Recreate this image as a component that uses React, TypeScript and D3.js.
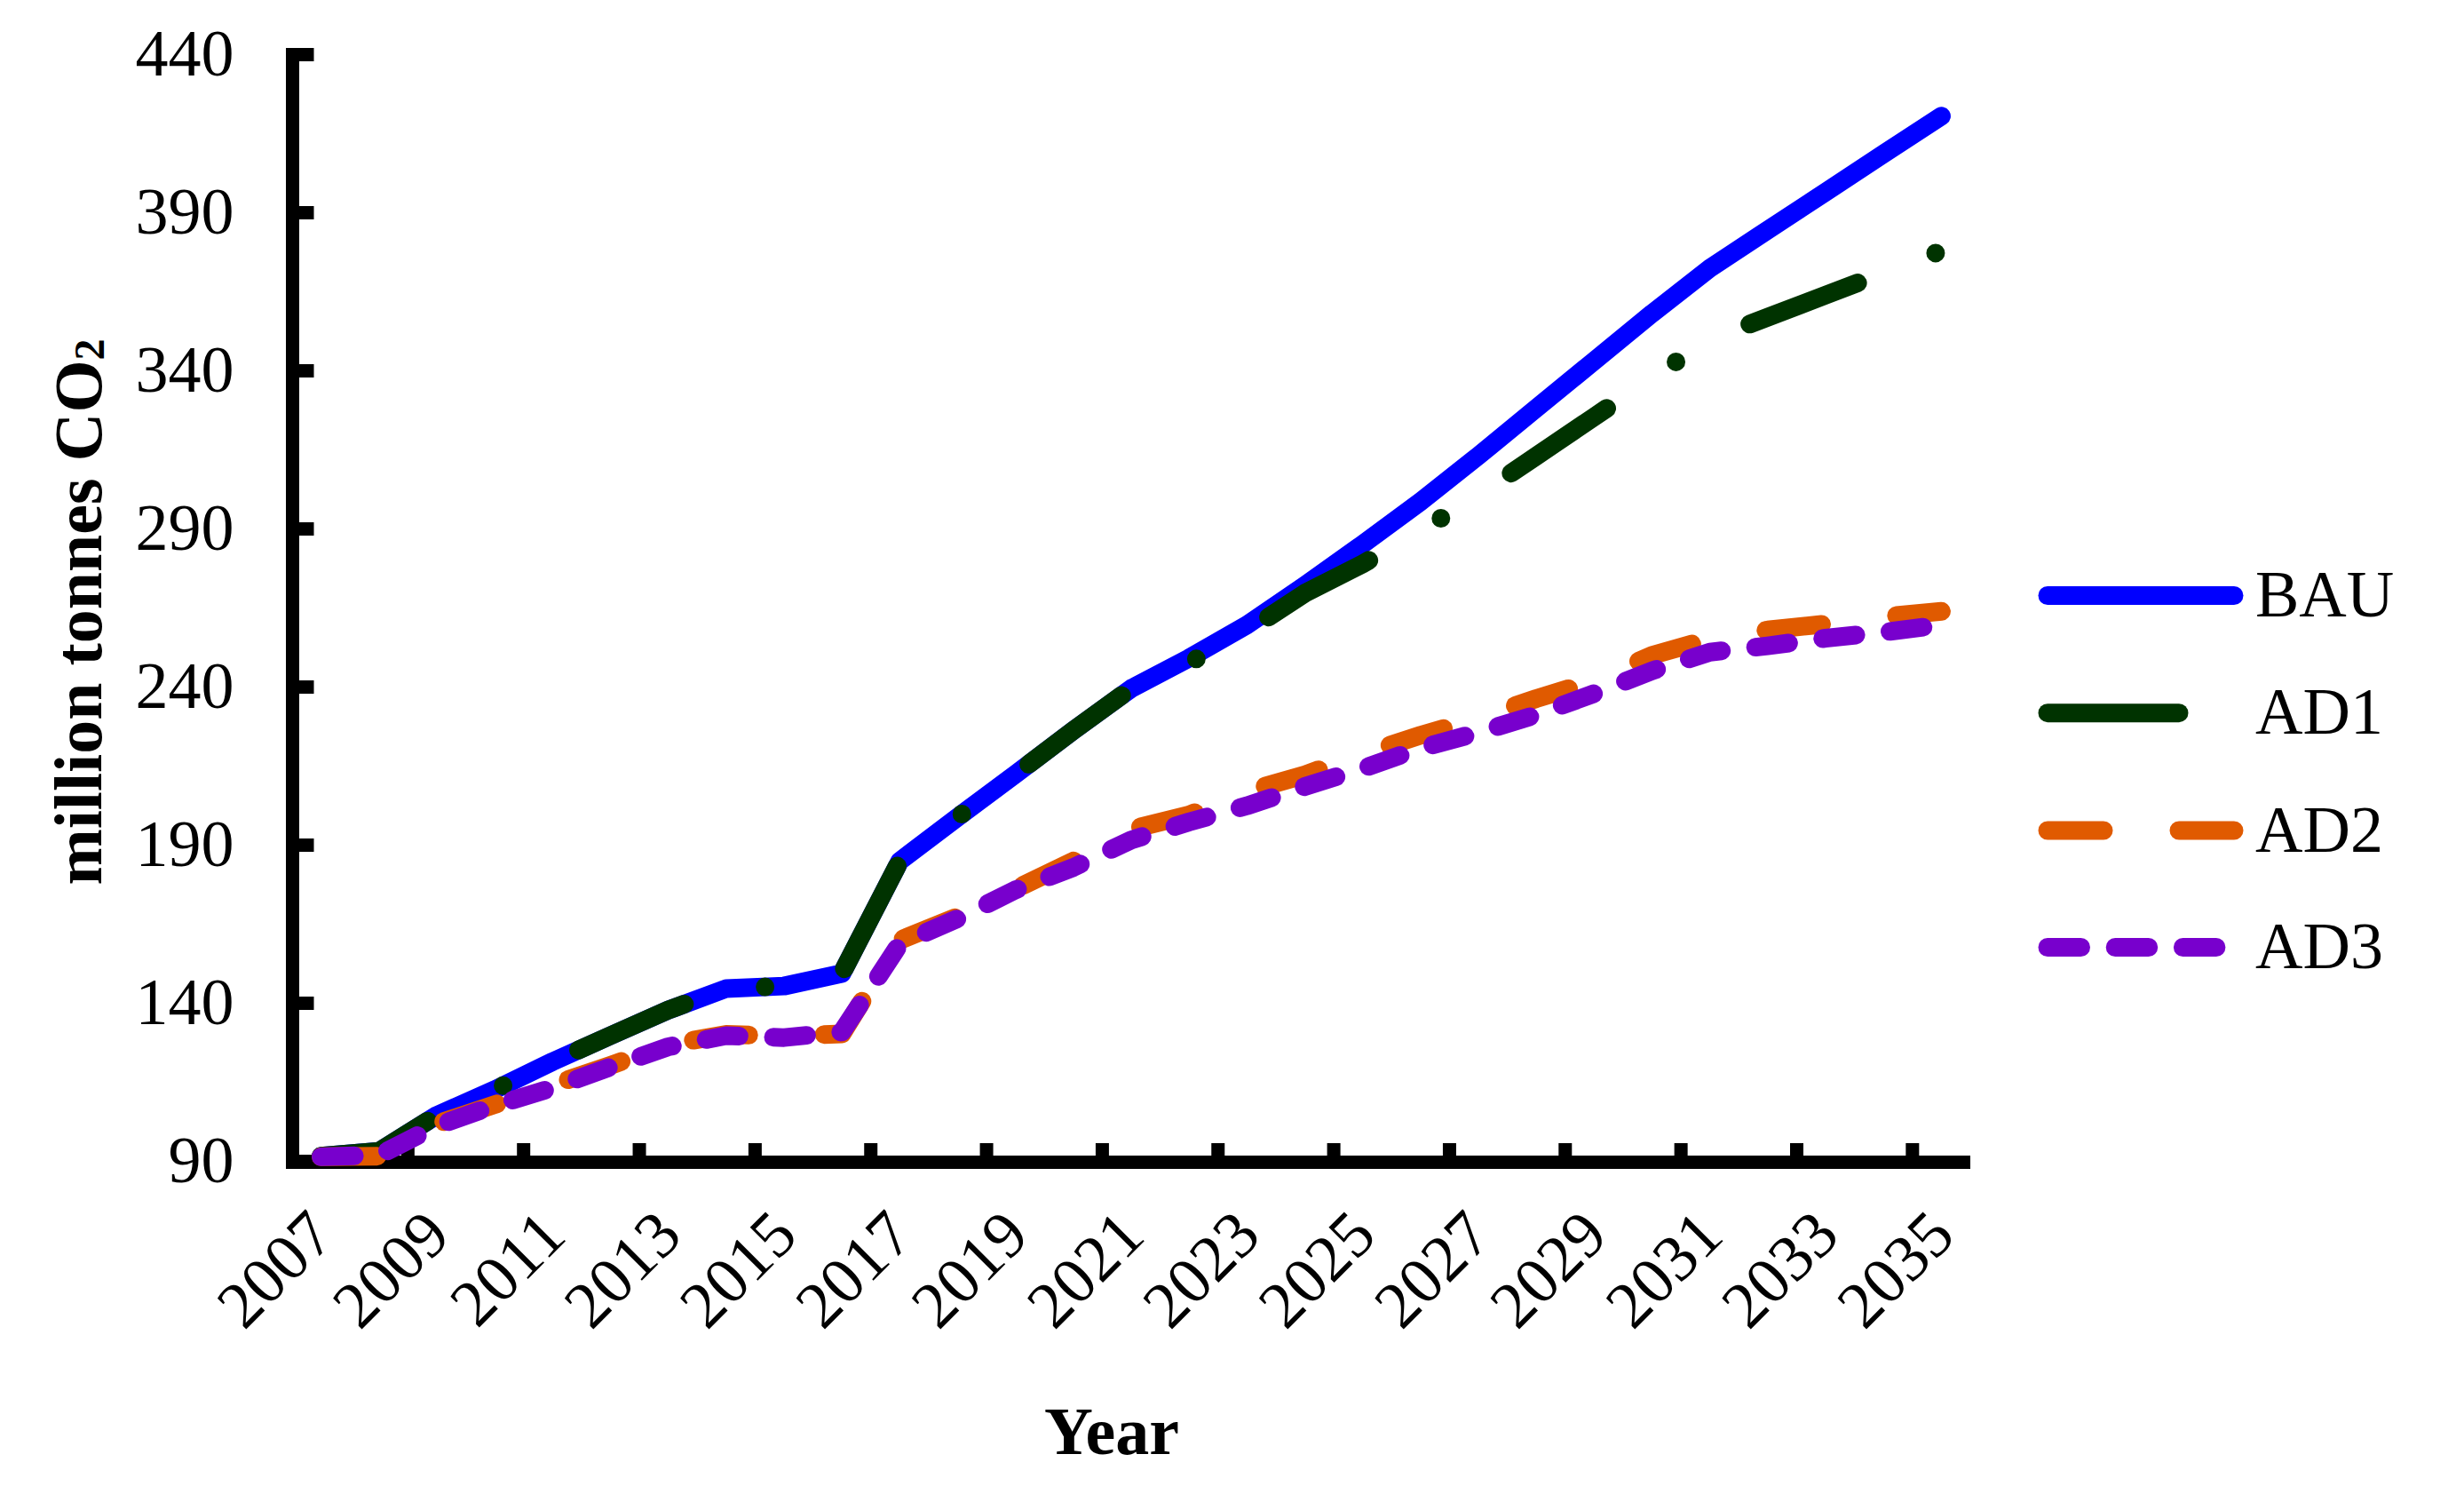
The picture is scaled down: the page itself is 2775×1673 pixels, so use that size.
import React, { useEffect, useRef } from 'react';
import * as d3 from 'd3';

// Years on the category axis
const years = [
  2007, 2008, 2009, 2010, 2011, 2012, 2013, 2014, 2015, 2016,
  2017, 2018, 2019, 2020, 2021, 2022, 2023, 2024, 2025, 2026,
  2027, 2028, 2029, 2030, 2031, 2032, 2033, 2034, 2035,
];

// million tonnes CO2
const bau = [
  91.5, 93, 104.4, 112.5, 121.4, 129.6, 137.7, 144.5, 145.3, 149.3,
  184.8, 198.7, 212.3, 226.1, 239.4, 249, 259.5, 272, 285, 298.5,
  313, 328, 343, 358, 372.3, 384.4, 396.4, 408.5, 420.4,
];
const ad1 = [
  91.5, 93, 104.4, 112.5, 121.4, 129.6, 137.7, 144.5, 145.3, 149.3,
  184.8, 198.7, 212.3, 226.1, 239.4, 247.5, 257.5, 269.5, 278.8, 289.3,
  300.5, 312.9, 325.3, 337.6, 349.9, 356.8, 363.8, 370.8, 377.8,
];
const ad2 = [
  91.3, 91.5, 101.7, 107.8, 114, 120.2, 126.8, 130, 129.5, 130.2,
  159.8, 167.2, 176, 184.8, 194.9, 199.4, 206.9, 212.1, 218.7, 224.6,
  230, 236.2, 241.8, 249.9, 255.1, 257.9, 259.8, 262.1, 263.8,
];
const ad3 = [
  91.3, 91.8, 101.1, 107.5, 113.1, 119.7, 126.1, 129.6, 129, 130.8,
  158.6, 166.6, 175.7, 182.8, 191.5, 197.2, 202.3, 208.4, 214.1, 220.5,
  225.5, 231.1, 237.8, 245, 250.9, 252.9, 255.3, 257.2, 259.5,
];

const seriesNames = ['BAU', 'AD1', 'AD2', 'AD3'];
const yTicks = [90, 140, 190, 240, 290, 340, 390, 440];
const xTickLabels = [
  '2007', '2009', '2011', '2013', '2015', '2017', '2019', '2021',
  '2023', '2025', '2027', '2029', '2031', '2033', '2035',
];

const FONT = '"Liberation Serif", "Times New Roman", serif';

const App: React.FC = () => {
  const chartRef = useRef<SVGSVGElement | null>(null);

  useEffect(() => {
    const svg = d3.select(chartRef.current);
    svg.selectAll('*').remove();

    const width = 2775;
    const height = 1673;
    svg.attr('width', width).attr('height', height);

    svg.append('rect').attr('width', width).attr('height', height).attr('fill', '#fff');

    // Scales
    const x = d3
      .scaleBand<string>()
      .domain(years.map(String))
      .range([329, 2219]);
    const bw = x.bandwidth();
    const cx = (yr: number) => (x(String(yr)) as number) + bw / 2;

    const y = d3.scaleLinear().domain([90, 440]).range([1307, 61]);

    const axisW = 15;

    // Y axis ticks and labels
    const yAxis = d3
      .axisLeft(y)
      .tickValues(yTicks)
      .tickSizeInner(-24)
      .tickSizeOuter(0)
      .tickPadding(66);

    const gy = svg
      .append('g')
      .attr('transform', `translate(329.5,0)`)
      .call(yAxis);
    gy.select('.domain').remove();
    gy.selectAll('.tick line').attr('stroke', '#000').attr('stroke-width', axisW);
    gy.selectAll('.tick text')
      .attr('fill', '#000')
      .style('font-family', FONT)
      .style('font-size', '74px');

    // X ticks at band edges, every second category
    const xTickYears = years.filter((yr, i) => i >= 2 && i % 2 === 0);
    svg
      .append('g')
      .selectAll('line')
      .data(xTickYears)
      .enter()
      .append('line')
      .attr('x1', (d) => x(String(d)) as number)
      .attr('x2', (d) => x(String(d)) as number)
      .attr('y1', 1308)
      .attr('y2', 1287)
      .attr('stroke', '#000')
      .attr('stroke-width', axisW);

    // Axis lines
    svg
      .append('line')
      .attr('x1', 329.5)
      .attr('x2', 329.5)
      .attr('y1', y(440) - 7)
      .attr('y2', 1316)
      .attr('stroke', '#000')
      .attr('stroke-width', axisW);
    svg
      .append('line')
      .attr('x1', 322)
      .attr('x2', 2219)
      .attr('y1', 1308.5)
      .attr('y2', 1308.5)
      .attr('stroke', '#000')
      .attr('stroke-width', axisW);

    // X labels, rotated
    svg
      .append('g')
      .selectAll('text')
      .data(xTickLabels)
      .enter()
      .append('text')
      .attr('transform', (d) => `translate(${cx(+d) + 18},1394) rotate(-45)`)
      .attr('text-anchor', 'end')
      .style('font-family', FONT)
      .style('font-size', '74px')
      .text((d) => d);

    // Titles
    svg
      .append('text')
      .attr('x', 1252)
      .attr('y', 1637)
      .attr('text-anchor', 'middle')
      .style('font-family', FONT)
      .style('font-size', '76px')
      .style('font-weight', 'bold')
      .text('Year');

    const yt = svg
      .append('text')
      .attr('transform', 'translate(114,689) rotate(-90)')
      .attr('text-anchor', 'middle')
      .style('font-family', FONT)
      .style('font-size', '76px')
      .style('font-weight', 'bold');
    yt.append('tspan').text('million tonnes CO');
    yt.append('tspan').attr('dy', 3).style('font-size', '48px').text('2');

    // Lines
    const styles = [
      { data: bau, color: '#0000ff', dash: null, legendDash: null },
      { data: ad1, color: '#003300', dash: '130 94 0 94', legendDash: '148 400' },
      { data: ad2, color: '#e05a00', dash: '63 85', legendDash: '63 85' },
      { data: ad3, color: '#7800cd', dash: '37.5 38.7', legendDash: '37.5 38.7' },
    ];

    const line = d3
      .line<number>()
      .x((d, i) => cx(years[i]))
      .y((d) => y(d));

    styles.forEach((s) => {
      svg
        .append('path')
        .datum(s.data)
        .attr('d', line)
        .attr('fill', 'none')
        .attr('stroke', s.color)
        .attr('stroke-width', 21)
        .attr('stroke-linecap', 'round')
        .attr('stroke-linejoin', 'round')
        .attr('stroke-dasharray', s.dash);
    });

    // Legend
    const legendY = [670.5, 802.7, 935, 1066.5];
    const lg = svg.append('g');
    seriesNames.forEach((name, i) => {
      lg.append('line')
        .attr('x1', 2306)
        .attr('x2', 2516)
        .attr('y1', legendY[i])
        .attr('y2', legendY[i])
        .attr('stroke', styles[i].color)
        .attr('stroke-width', 21)
        .attr('stroke-linecap', 'round')
        .attr('stroke-dasharray', styles[i].legendDash);
      lg.append('text')
        .attr('x', 2540)
        .attr('y', legendY[i] + 23.5)
        .style('font-family', FONT)
        .style('font-size', '74px')
        .text(name);
    });
  }, []);

  return (
    <svg
      ref={chartRef}
      style={{ position: 'absolute', left: 0, top: 0, display: 'block' }}
    ></svg>
  );
};

export default App;
